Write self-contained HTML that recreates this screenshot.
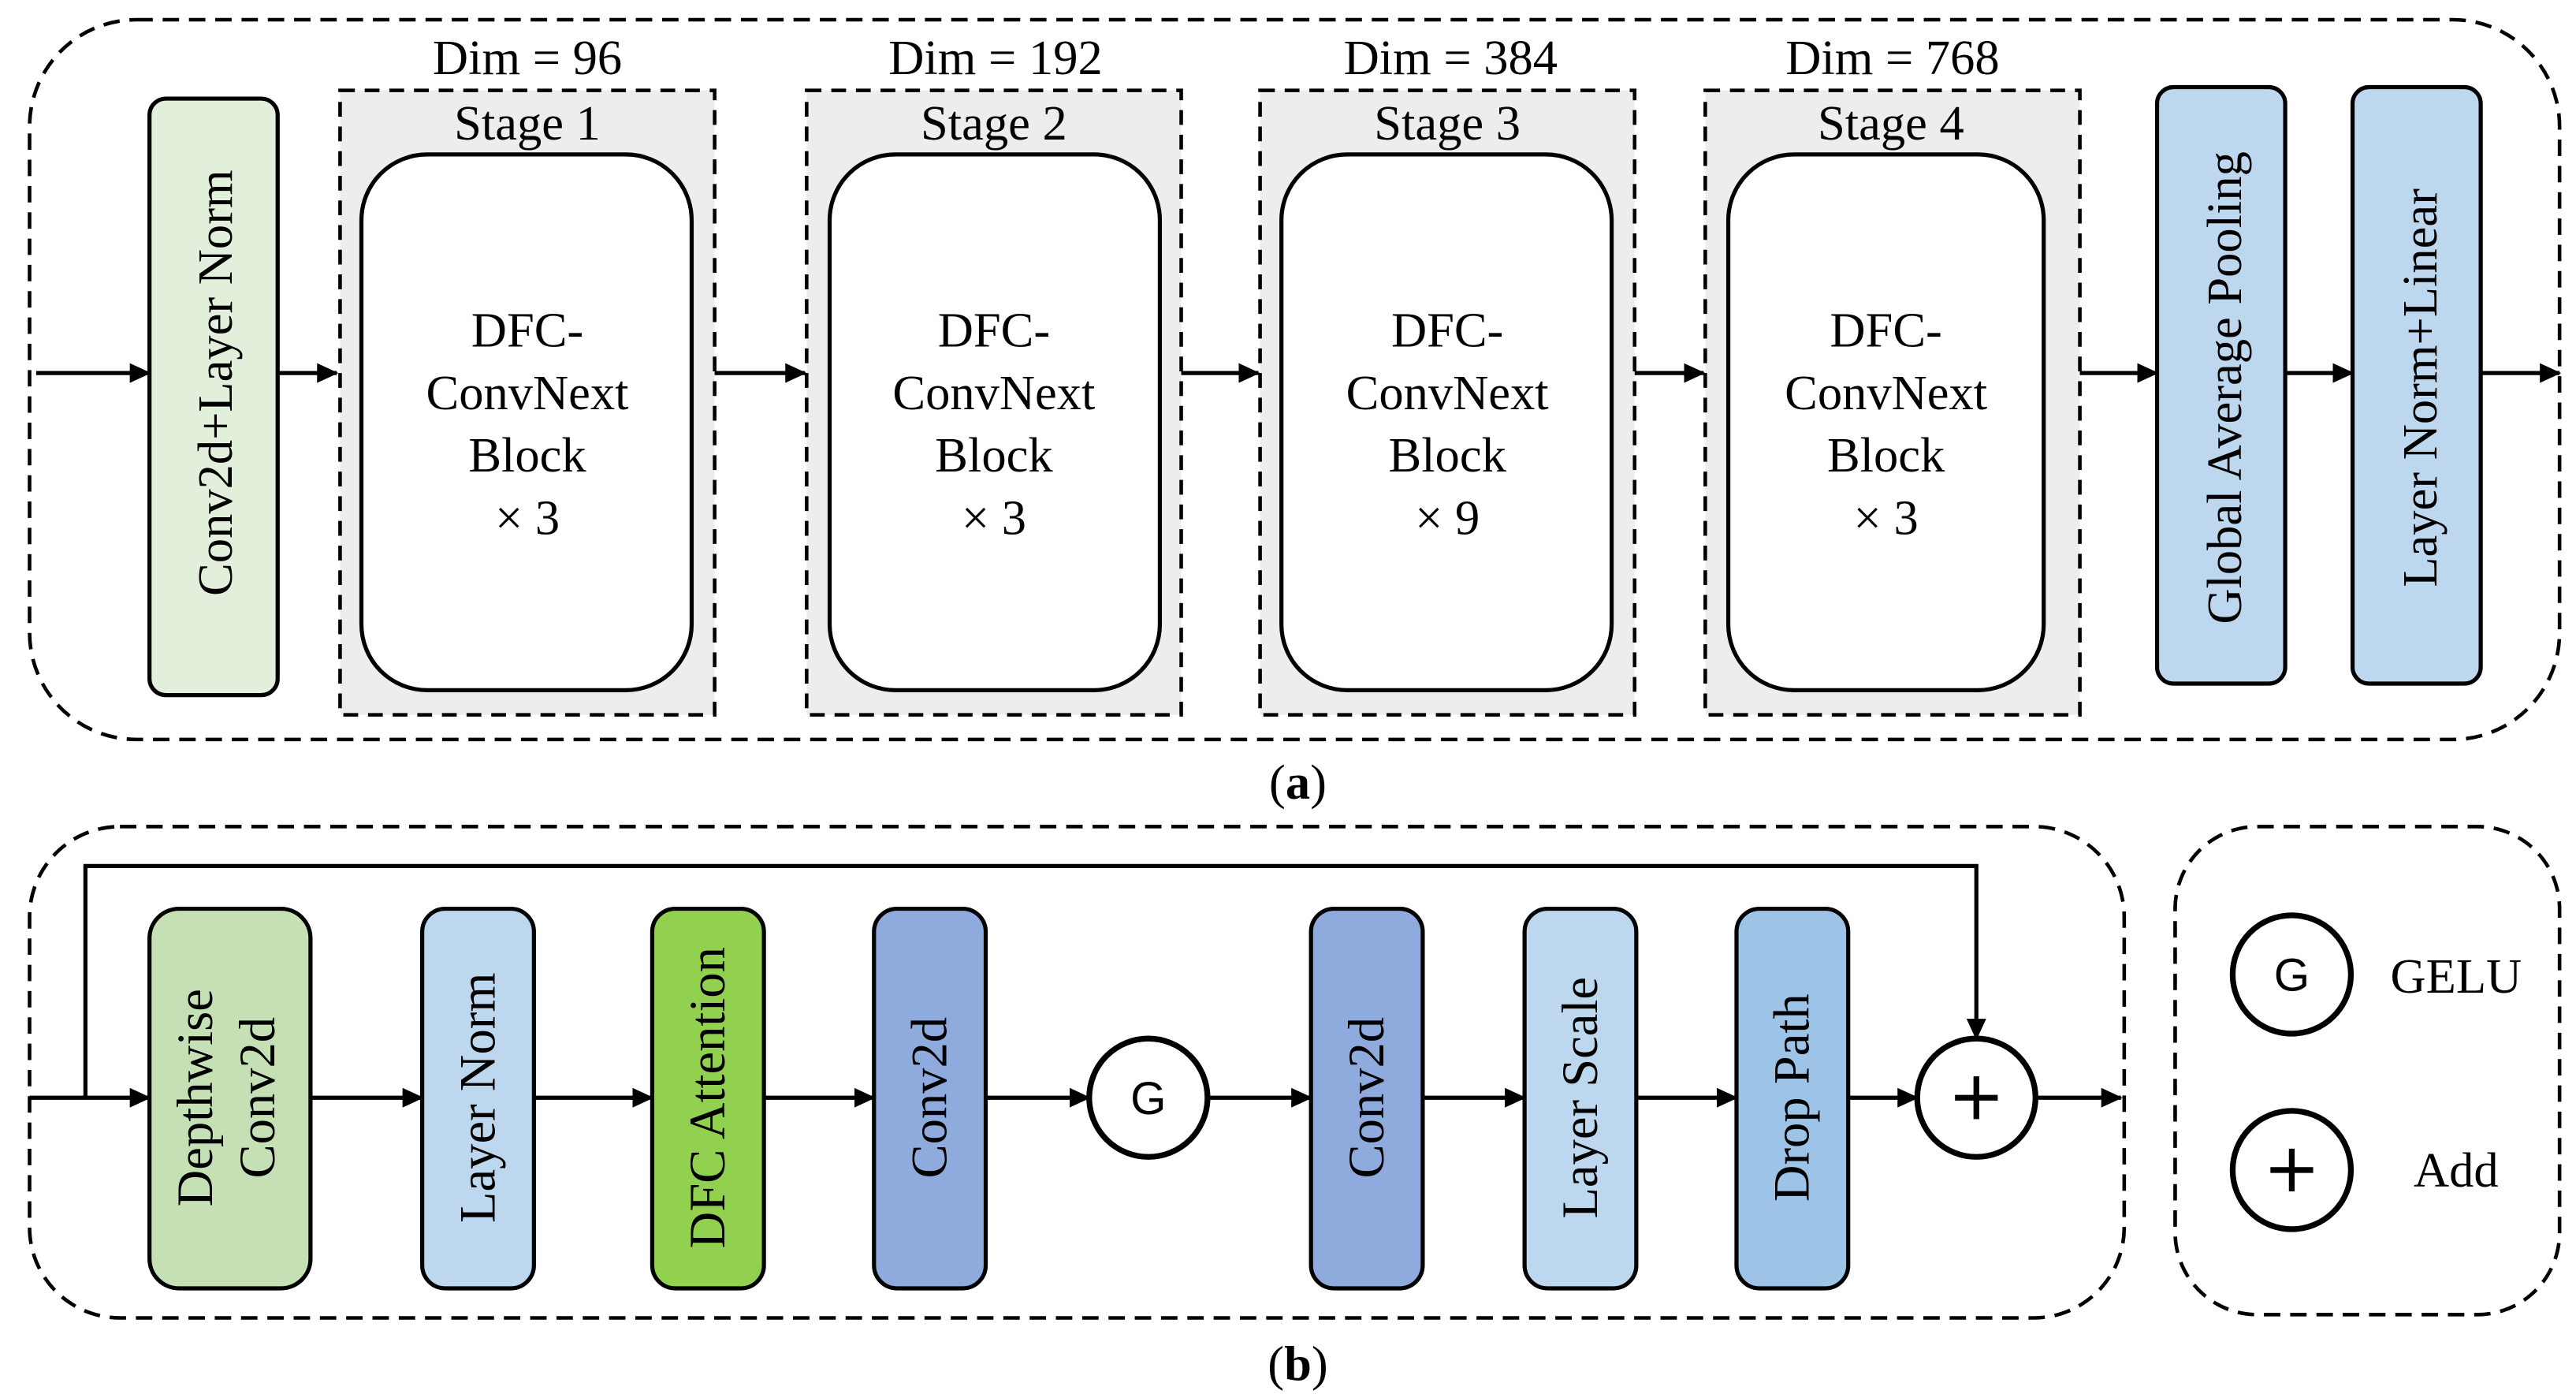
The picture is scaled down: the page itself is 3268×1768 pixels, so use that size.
<!DOCTYPE html>
<html><head><meta charset="utf-8"><style>html,body{margin:0;padding:0;background:#fff}svg{display:block}</style></head>
<body>
<svg width="3268" height="1768" viewBox="0 0 1568 848.3" preserveAspectRatio="none" xmlns="http://www.w3.org/2000/svg" style="font-family:'Liberation Serif',serif">
<defs>
<marker id="ah" markerWidth="13" markerHeight="12" refX="12" refY="6" orient="auto" markerUnits="userSpaceOnUse">
<path d="M0,0 L13,6 L0,12 Z" fill="#000"/></marker>
</defs>
<g fill="none" stroke="#000" stroke-width="2.2" stroke-dasharray="10,6">
<rect x="18" y="12" width="1540" height="438" rx="65"/>
<rect x="18" y="503" width="1275" height="299" rx="55"/>
<rect x="1324" y="503" width="234" height="297" rx="50"/>
</g>
<rect x="91" y="60" width="78" height="363" rx="10" fill="#e2efda" stroke="#000" stroke-width="2.5"/>
<text transform="translate(141,233) rotate(-90)" text-anchor="middle" font-size="30">Conv2d+Layer Norm</text>
<g stroke-width="2.2">
<rect x="207" y="55" width="228" height="380" fill="#ededed" stroke="#000" stroke-dasharray="9,6"/>
<rect x="491" y="55" width="228" height="380" fill="#ededed" stroke="#000" stroke-dasharray="9,6"/>
<rect x="767" y="55" width="228" height="380" fill="#ededed" stroke="#000" stroke-dasharray="9,6"/>
<rect x="1038" y="55" width="228" height="380" fill="#ededed" stroke="#000" stroke-dasharray="9,6"/>
</g>
<g fill="#fff" stroke="#000" stroke-width="2.5">
<rect x="220" y="94" width="201" height="326" rx="40"/>
<rect x="505" y="94" width="201" height="326" rx="40"/>
<rect x="780" y="94" width="201" height="326" rx="40"/>
<rect x="1052" y="94" width="192" height="326" rx="40"/>
</g>
<g font-size="30" text-anchor="middle">
<text x="321" y="45">Dim = 96</text><text x="606" y="45">Dim = 192</text><text x="883" y="45">Dim = 384</text><text x="1152" y="45">Dim = 768</text>
<text x="321" y="85">Stage 1</text><text x="605" y="85">Stage 2</text><text x="881" y="85">Stage 3</text><text x="1151" y="85">Stage 4</text>
<text x="321" y="211">DFC-</text><text x="321" y="249">ConvNext</text><text x="321" y="287">Block</text><text x="321" y="325">× 3</text>
<text x="605" y="211">DFC-</text><text x="605" y="249">ConvNext</text><text x="605" y="287">Block</text><text x="605" y="325">× 3</text>
<text x="881" y="211">DFC-</text><text x="881" y="249">ConvNext</text><text x="881" y="287">Block</text><text x="881" y="325">× 9</text>
<text x="1148" y="211">DFC-</text><text x="1148" y="249">ConvNext</text><text x="1148" y="287">Block</text><text x="1148" y="325">× 3</text>
<text x="790" y="486">(<tspan font-weight="bold">a</tspan>)</text>
<text x="790" y="840">(<tspan font-weight="bold">b</tspan>)</text>
</g>
<rect x="1313" y="53" width="78" height="363" rx="10" fill="#bdd7ee" stroke="#000" stroke-width="2.5"/>
<text transform="translate(1364,236) rotate(-90)" text-anchor="middle" font-size="30">Global Average Pooling</text>
<rect x="1432" y="53" width="78" height="363" rx="10" fill="#bdd7ee" stroke="#000" stroke-width="2.5"/>
<text transform="translate(1483,236) rotate(-90)" text-anchor="middle" font-size="30">Layer Norm+Linear</text>
<g stroke="#000" stroke-width="2.5" marker-end="url(#ah)">
<line x1="22" y1="227" x2="91" y2="227"/><line x1="169" y1="227" x2="205" y2="227"/>
<line x1="435" y1="227" x2="490" y2="227"/><line x1="719" y1="227" x2="766" y2="227"/>
<line x1="995" y1="227" x2="1037" y2="227"/><line x1="1266" y1="227" x2="1313" y2="227"/>
<line x1="1391" y1="227" x2="1432" y2="227"/><line x1="1510" y1="227" x2="1558" y2="227"/>
</g>
<g stroke="#000" stroke-width="2.5" fill="none">
<polyline points="52,668 52,527 1203,527 1203,632" marker-end="url(#ah)"/>
<line x1="18" y1="668" x2="91" y2="668" marker-end="url(#ah)"/>
<line x1="189" y1="668" x2="257" y2="668" marker-end="url(#ah)"/>
<line x1="325" y1="668" x2="397" y2="668" marker-end="url(#ah)"/>
<line x1="465" y1="668" x2="532" y2="668" marker-end="url(#ah)"/>
<line x1="600" y1="668" x2="663" y2="668" marker-end="url(#ah)"/>
<line x1="736" y1="668" x2="798" y2="668" marker-end="url(#ah)"/>
<line x1="866" y1="668" x2="928" y2="668" marker-end="url(#ah)"/>
<line x1="996" y1="668" x2="1057" y2="668" marker-end="url(#ah)"/>
<line x1="1125" y1="668" x2="1167" y2="668" marker-end="url(#ah)"/>
<line x1="1240" y1="668" x2="1291" y2="668" marker-end="url(#ah)"/>
</g>
<g stroke="#000" stroke-width="2.5">
<rect x="91" y="553" width="98" height="231" rx="18" fill="#c5e0b4"/>
<rect x="257" y="553" width="68" height="231" rx="14" fill="#bdd7ee"/>
<rect x="397" y="553" width="68" height="231" rx="14" fill="#92d050"/>
<rect x="532" y="553" width="68" height="231" rx="14" fill="#8faadc"/>
<rect x="798" y="553" width="68" height="231" rx="14" fill="#8faadc"/>
<rect x="928" y="553" width="68" height="231" rx="14" fill="#bdd7ee"/>
<rect x="1057" y="553" width="68" height="231" rx="14" fill="#9dc3e6"/>
</g>
<g stroke="#000" stroke-width="3.5" fill="#fff">
<circle cx="699" cy="668" r="36"/><circle cx="1203" cy="668" r="36"/>
<circle cx="1395" cy="593" r="36"/><circle cx="1395" cy="712" r="36"/>
</g>
<g font-size="31" text-anchor="middle">
<text transform="translate(129,668) rotate(-90)">Depthwise</text>
<text transform="translate(167,668) rotate(-90)">Conv2d</text>
<text transform="translate(301,668) rotate(-90)">Layer Norm</text>
<text transform="translate(441,668) rotate(-90)">DFC Attention</text>
<text transform="translate(576,668) rotate(-90)">Conv2d</text>
<text transform="translate(842,668) rotate(-90)">Conv2d</text>
<text transform="translate(972,668) rotate(-90)">Layer Scale</text>
<text transform="translate(1101,668) rotate(-90)">Drop Path</text>
</g>
<g font-size="30" text-anchor="middle">
<text x="1495" y="604">GELU</text>
<text x="1495" y="722">Add</text>
</g>
<g style="font-family:'Liberation Sans',sans-serif" font-size="28" text-anchor="middle">
<text x="699" y="678">G</text><text x="1395" y="603">G</text>
</g>
<g stroke="#000" stroke-width="3.5">
<line x1="1190" y1="668" x2="1216" y2="668"/><line x1="1203" y1="655" x2="1203" y2="681"/>
<line x1="1382" y1="712" x2="1408" y2="712"/><line x1="1395" y1="699" x2="1395" y2="725"/>
</g>
</svg>
</body></html>
